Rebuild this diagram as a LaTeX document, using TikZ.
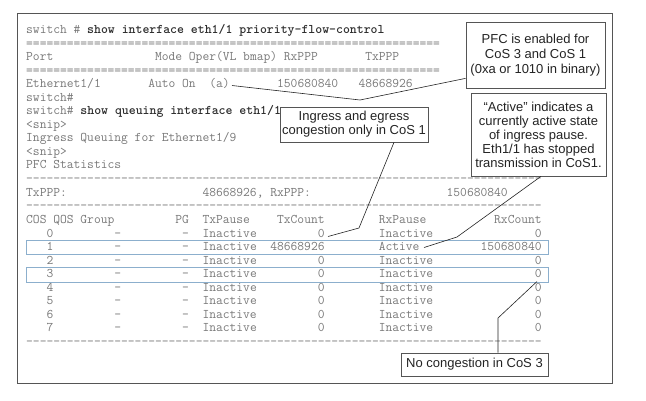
\documentclass[tikz,border=0pt]{standalone}
\usepackage{fontspec}
\setmainfont{Liberation Sans}
\setsansfont{Liberation Sans}
\usetikzlibrary{positioning}
\definecolor{codegray}{RGB}{120,120,120}
\definecolor{cmdgray}{RGB}{45,45,45}
\definecolor{rowblue}{RGB}{140,175,205}
\definecolor{framegray}{RGB}{85,85,85}
\definecolor{notegray}{RGB}{35,35,35}
\tikzset{%
	code/.style    = {anchor=west, inner sep=0pt, text height=8pt, text depth=2.5pt, text=codegray, font=\fontsize{13.17}{13.55}\selectfont\ttfamily\frenchspacing},
	note/.style    = {draw=framegray, line width=0.7pt, rectangle, align=center, inner sep=2pt, text=notegray, font=\fontsize{13}{14}\selectfont\sffamily},
	callout/.style = {draw=notegray, line width=0.6pt},
	rowbox/.style  = {draw=rowblue, line width=0.9pt},
	frame/.style   = {draw=framegray, line width=0.9pt},
}
\newcommand{\cmd}[1]{\textbf{\color{cmdgray}#1}}
\newcommand{\rulerow}[2]{\foreach \i in {1,...,#1}{#2}}

\begin{document}
\begin{tikzpicture}[x=1pt,y=-1pt]
	\useasboundingbox (0,0) rectangle (646,400);
	\draw[frame] (17,13) rectangle (612,383);
	
	% show interface
	\node[code] (l0) at (26,31) {switch~\#~\cmd{show interface eth1/1 priority-flow-control}};
	\node[code] (l1) at (26,44.5) {\rulerow{61}{=}};
	\node[code] (l2) at (26,58) {Port~~~~~~~~~~~~~~~Mode~Oper(VL~bmap)~RxPPP~~~~~~~TxPPP};
	\node[code] (l3) at (26,71.6) {\rulerow{61}{=}};
	\node[code] (l4) at (26,85) {Ethernet1/1~~~~~~~Auto~On~~(a)~~~~~~~150680840~~~48668926};
	\node[code] (l5) at (26,98.7) {switch\#};
	
	% show queuing
	\node[code] (l6) at (26,112) {switch\#~\cmd{show queuing interface eth1/1}};
	\node[code] (l7) at (26,126) {<snip>};
	\node[code] (l8) at (26,139) {Ingress Queuing for Ethernet1/9};
	\node[code] (l9) at (26,153) {<snip>};
	\node[code] (l10) at (26,166) {PFC Statistics};
	\node[code] (l11) at (26,180) {\rulerow{76}{-}};
	\node[code] (l12) at (26,193.6) {TxPPP:~~~~~~~~~~~~~~~~~~~~48668926,~RxPPP:~~~~~~~~~~~~~~~~~~~~150680840};
	\node[code] (l13) at (26,207) {\rulerow{76}{-}};
	\node[code] (l14) at (26,220.7) {COS~QOS~Group~~~~~~~~~PG~~TxPause~~~~TxCount~~~~~~~~RxPause~~~~~~~~~~RxCount};
	\node[code] (r0) at (26,234.3) {~~~0~~~~~~~~~-~~~~~~~~~-~~Inactive~~~~~~~~~0~~~~~~~~Inactive~~~~~~~~~~~~~~~0};
	\node[code] (r1) at (26,247.8) {~~~1~~~~~~~~~-~~~~~~~~~-~~Inactive~~48668926~~~~~~~~Active~~~~~~~~~150680840};
	\node[code] (r2) at (26,261.4) {~~~2~~~~~~~~~-~~~~~~~~~-~~Inactive~~~~~~~~~0~~~~~~~~Inactive~~~~~~~~~~~~~~~0};
	\node[code] (r3) at (26,274.9) {~~~3~~~~~~~~~-~~~~~~~~~-~~Inactive~~~~~~~~~0~~~~~~~~Inactive~~~~~~~~~~~~~~~0};
	\node[code] (r4) at (26,288.5) {~~~4~~~~~~~~~-~~~~~~~~~-~~Inactive~~~~~~~~~0~~~~~~~~Inactive~~~~~~~~~~~~~~~0};
	\node[code] (r5) at (26,302) {~~~5~~~~~~~~~-~~~~~~~~~-~~Inactive~~~~~~~~~0~~~~~~~~Inactive~~~~~~~~~~~~~~~0};
	\node[code] (r6) at (26,315.6) {~~~6~~~~~~~~~-~~~~~~~~~-~~Inactive~~~~~~~~~0~~~~~~~~Inactive~~~~~~~~~~~~~~~0};
	\node[code] (r7) at (26,329.1) {~~~7~~~~~~~~~-~~~~~~~~~-~~Inactive~~~~~~~~~0~~~~~~~~Inactive~~~~~~~~~~~~~~~0};
	\node[code] (l23) at (26,342.6) {\rulerow{76}{-}};
	
	\draw[rowbox] (26,240) rectangle (548,254.5);
	\draw[rowbox] (26,267.5) rectangle (548,282);
	
	% callouts
	\node[note, minimum width=139, minimum height=66, font=\fontsize{13}{15}\selectfont\sffamily] (pfc) at (535.5,55) {PFC is enabled for\\CoS 3 and CoS 1\\(0xa or 1010 in binary)};
	\node[note, minimum width=135, minimum height=83] (active) at (538.5,134.5) {``Active'' indicates a\\currently active state\\of ingress pause.\\Eth1/1 has stopped\\transmission in CoS1.};
	\node[note, minimum width=146, minimum height=35] (ingress) at (354,124.5) {Ingress and egress\\congestion only in CoS 1};
	\node[note, minimum width=147, minimum height=23] (nocong) at (474.5,364.5) {No congestion in CoS 3};
	
	\coordinate (a-tip) at (232,85.5);
	\coordinate (pfc-bend) at (360,100);
	\coordinate (ing-bend) at (359,228);
	\coordinate (ing-tip) at (328,236.5);
	\coordinate (act-bend) at (457,237);
	\coordinate (act-tip) at (424,247.5);
	\coordinate (noc-bend) at (498,318);
	\coordinate (noc-tip) at (537,281.5);
	
	\draw[callout] (a-tip) -- (pfc-bend) -- ([yshift=10pt]pfc.south west);
	\draw[callout] ([xshift=40pt]ingress.south) -- (ing-bend) -- (ing-tip);
	\draw[callout] ([xshift=2.5pt]active.south) -- (act-bend) -- (act-tip);
	\draw[callout] ([xshift=23.5pt]nocong.north) -- (noc-bend) -- (noc-tip);
\end{tikzpicture}
\end{document}
